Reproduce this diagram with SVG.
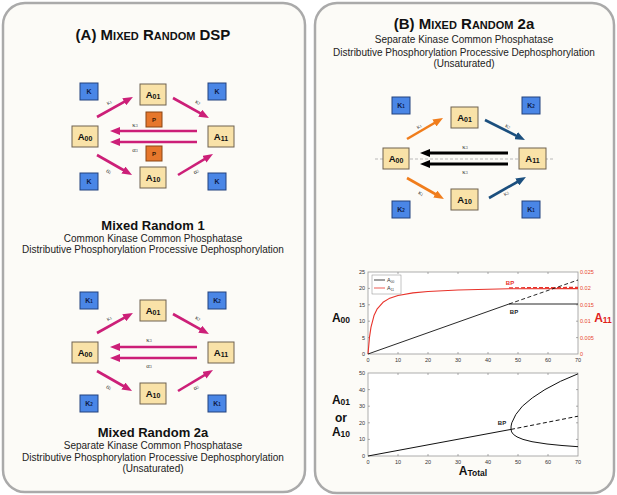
<svg xmlns="http://www.w3.org/2000/svg" width="617" height="495" viewBox="0 0 617 495">
<defs>
<style>
.panel{fill:#fcfbf7;stroke:#aaaaaa;stroke-width:2.5}
.nd{fill:#f9e2a8;stroke:#6e6250;stroke-width:1}
.kb{fill:#4a86e6;stroke:#23427e;stroke-width:1}
.pb{fill:#e6772c;stroke:#8a4614;stroke-width:1}
.nt{font-family:"Liberation Sans",Arial,sans-serif;font-weight:bold;font-size:9.5px;fill:#111;text-anchor:middle}
.nt .s{font-size:7px}
.kt{font-family:"Liberation Sans",Arial,sans-serif;font-weight:bold;font-size:7px;fill:#0e1b45;text-anchor:middle}
.kt .s{font-size:4.5px}
.pt{font-family:"Liberation Sans",Arial,sans-serif;font-weight:bold;font-size:6px;fill:#3a1a05;text-anchor:middle}
.lb{font-family:"Liberation Serif","Times New Roman",serif;font-size:6.5px;fill:#333;text-anchor:middle}
.lb .s{font-size:4px}
.ttl{font-family:"Liberation Sans",Arial,sans-serif;font-weight:bold;font-size:15px;fill:#111;text-anchor:middle}
.ttl .sc{font-size:11px}
.h2{font-family:"Liberation Sans",Arial,sans-serif;font-weight:bold;font-size:13px;fill:#111;text-anchor:middle}
.sub{font-family:"Liberation Sans",Arial,sans-serif;font-size:10px;fill:#222;text-anchor:middle}
.mag{stroke:#cc1f78;stroke-width:2.6;fill:none;marker-end:url(#hm)}
.org{stroke:#f07d1c;stroke-width:2.6;fill:none;marker-end:url(#ho)}
.nav{stroke:#1b4f7e;stroke-width:2.6;fill:none;marker-end:url(#hn)}
.blk{stroke:#000;stroke-width:2.8;fill:none;marker-end:url(#hk)}
.ax{fill:#fff;stroke:#9a9a9a;stroke-width:0.8}
.tk{stroke:#777;stroke-width:0.6}
.tl{font-family:"Liberation Sans",Arial,sans-serif;font-size:5.5px;fill:#333}
.tlr{font-family:"Liberation Sans",Arial,sans-serif;font-size:5.5px;fill:#e8452a}
.al{font-family:"Liberation Sans",Arial,sans-serif;font-weight:bold;font-size:12px;fill:#111;text-anchor:middle}
.al .s{font-size:8.5px}
.bp{font-family:"Liberation Sans",Arial,sans-serif;font-weight:bold;font-size:6px}
</style>
<marker id="hm" viewBox="0 0 10 8" refX="5" refY="4" markerWidth="10" markerHeight="8" markerUnits="userSpaceOnUse" orient="auto"><path d="M0,0 L10,4 L0,8 z" fill="#cc1f78"/></marker>
<marker id="ho" viewBox="0 0 10 8" refX="5" refY="4" markerWidth="10" markerHeight="8" markerUnits="userSpaceOnUse" orient="auto"><path d="M0,0 L10,4 L0,8 z" fill="#f07d1c"/></marker>
<marker id="hn" viewBox="0 0 10 8" refX="5" refY="4" markerWidth="10" markerHeight="8" markerUnits="userSpaceOnUse" orient="auto"><path d="M0,0 L10,4 L0,8 z" fill="#1b4f7e"/></marker>
<marker id="hk" viewBox="0 0 10 8" refX="5" refY="4" markerWidth="10" markerHeight="8" markerUnits="userSpaceOnUse" orient="auto"><path d="M0,0 L10,4 L0,8 z" fill="#000"/></marker>
</defs>

<rect class="panel" x="3" y="3" width="302" height="489" rx="22"/>
<rect class="panel" x="315" y="3" width="299" height="490" rx="22"/>

<!-- Panel A titles -->
<text class="ttl" x="153" y="40">(A) M<tspan class="sc">IXED</tspan> R<tspan class="sc">ANDOM</tspan> DSP</text>
<text class="h2" x="153" y="230">Mixed Random 1</text>
<text class="sub" x="153" y="242">Common Kinase Common Phosphatase</text>
<text class="sub" x="153" y="253">Distributive Phosphorylation Processive Dephosphorylation</text>
<text class="h2" x="153" y="437">Mixed Random 2a</text>
<text class="sub" x="153" y="449">Separate Kinase Common Phosphatase</text>
<text class="sub" x="153" y="461">Distributive Phosphorylation Processive Dephosphorylation</text>
<text class="sub" x="153" y="472">(Unsaturated)</text>

<!-- Panel B titles -->
<text class="ttl" x="464" y="29">(B) M<tspan class="sc">IXED</tspan> R<tspan class="sc">ANDOM</tspan> 2a</text>
<text class="sub" x="464" y="43">Separate Kinase Common Phosphatase</text>
<text class="sub" x="464" y="56">Distributive Phosphorylation Processive Dephosphorylation</text>
<text class="sub" x="464" y="67">(Unsaturated)</text>

<!-- dashed guide line in B -->
<line x1="375" y1="159" x2="553" y2="159" stroke="#aaa" stroke-width="0.8" stroke-dasharray="3,2"/>

<g id="connectors">
 <!-- A top diagram -->
 <line class="mag" x1="97" y1="117" x2="128.6" y2="99.4"/>
 <line class="mag" x1="173" y1="98" x2="204.6" y2="115.6"/>
 <line class="mag" x1="197" y1="131" x2="115" y2="131"/>
 <line class="mag" x1="197" y1="142" x2="115" y2="142"/>
 <line class="mag" x1="97" y1="155" x2="127.7" y2="172.5"/>
 <line class="mag" x1="178" y1="175" x2="208.7" y2="156.6"/>
 <!-- A bottom diagram -->
 <line class="mag" x1="97" y1="333" x2="128.6" y2="315.4"/>
 <line class="mag" x1="173" y1="314" x2="204.6" y2="331.6"/>
 <line class="mag" x1="197" y1="347" x2="115" y2="347"/>
 <line class="mag" x1="197" y1="358" x2="115" y2="358"/>
 <line class="mag" x1="97" y1="371" x2="127.7" y2="388.5"/>
 <line class="mag" x1="178" y1="391" x2="208.7" y2="372.6"/>
 <!-- B diagram -->
 <line class="org" x1="407" y1="139" x2="438.7" y2="120.5"/>
 <line class="nav" x1="485" y1="120" x2="520.5" y2="137.8"/>
 <line class="blk" x1="508" y1="153" x2="425" y2="153"/>
 <line class="blk" x1="508" y1="164" x2="425" y2="164"/>
 <line class="org" x1="407" y1="178" x2="439.6" y2="196.5"/>
 <line class="nav" x1="489" y1="198" x2="521.6" y2="179.5"/>
</g>

<g id="connector-labels">
 <text class="lb" transform="translate(110,104) rotate(-29)">κ<tspan class="s">1</tspan></text>
 <text class="lb" transform="translate(197,104) rotate(29)">κ<tspan class="s">2</tspan></text>
 <text class="lb" x="135" y="127">κ<tspan class="s">3</tspan></text>
 <text class="lb" x="135" y="152">α<tspan class="s">3</tspan></text>
 <text class="lb" transform="translate(108,173) rotate(30)">α<tspan class="s">1</tspan></text>
 <text class="lb" transform="translate(197,173) rotate(-31)">α<tspan class="s">2</tspan></text>

 <text class="lb" transform="translate(110,320) rotate(-29)">κ<tspan class="s">1</tspan></text>
 <text class="lb" transform="translate(197,320) rotate(29)">κ<tspan class="s">2</tspan></text>
 <text class="lb" x="149" y="342">κ<tspan class="s">3</tspan></text>
 <text class="lb" x="149" y="368">α<tspan class="s">3</tspan></text>
 <text class="lb" transform="translate(108,389) rotate(30)">α<tspan class="s">1</tspan></text>
 <text class="lb" transform="translate(197,389) rotate(-31)">α<tspan class="s">2</tspan></text>

 <text class="lb" transform="translate(420,128) rotate(-30)">κ<tspan class="s">1</tspan></text>
 <text class="lb" transform="translate(507,128) rotate(27)">κ<tspan class="s">2</tspan></text>
 <text class="lb" x="465" y="149">κ<tspan class="s">3</tspan></text>
 <text class="lb" x="465" y="174">κ<tspan class="s">3</tspan></text>
 <text class="lb" transform="translate(420,195) rotate(30)">κ<tspan class="s">1</tspan></text>
 <text class="lb" transform="translate(507,195) rotate(-30)">κ<tspan class="s">2</tspan></text>
</g>

<!-- Panel A, diagram 1 nodes -->
<g id="a1-K-tl"><rect class="kb" x="80" y="83" width="18" height="17"/><text class="kt" x="89" y="94">K</text></g>
<g id="a1-K-tr"><rect class="kb" x="208" y="83" width="18" height="17"/><text class="kt" x="217" y="94">K</text></g>
<g id="a1-K-bl"><rect class="kb" x="80" y="173" width="18" height="17"/><text class="kt" x="89" y="184">K</text></g>
<g id="a1-K-br"><rect class="kb" x="208" y="173" width="18" height="17"/><text class="kt" x="217" y="184">K</text></g>
<g id="a1-A01"><rect class="nd" x="140" y="84" width="26" height="21"/><text class="nt" x="153" y="98">A<tspan class="s" dy="1">01</tspan></text></g>
<g id="a1-A00"><rect class="nd" x="72" y="126" width="26" height="21"/><text class="nt" x="85" y="140">A<tspan class="s" dy="1">00</tspan></text></g>
<g id="a1-A11"><rect class="nd" x="208" y="126" width="26" height="21"/><text class="nt" x="221" y="140">A<tspan class="s" dy="1">11</tspan></text></g>
<g id="a1-A10"><rect class="nd" x="140" y="167" width="26" height="21"/><text class="nt" x="153" y="181">A<tspan class="s" dy="1">10</tspan></text></g>
<g id="a1-P-top"><rect class="pb" x="146" y="112" width="16" height="15"/><text class="pt" x="154" y="122">P</text></g>
<g id="a1-P-bot"><rect class="pb" x="146" y="146" width="16" height="15"/><text class="pt" x="154" y="156">P</text></g>

<!-- Panel A, diagram 2 nodes -->
<g id="a2-K1-tl"><rect class="kb" x="80" y="292" width="18" height="17"/><text class="kt" x="89" y="303">K<tspan class="s">1</tspan></text></g>
<g id="a2-K2-tr"><rect class="kb" x="208" y="292" width="18" height="17"/><text class="kt" x="217" y="303">K<tspan class="s">2</tspan></text></g>
<g id="a2-K2-bl"><rect class="kb" x="80" y="395" width="18" height="17"/><text class="kt" x="89" y="406">K<tspan class="s">2</tspan></text></g>
<g id="a2-K1-br"><rect class="kb" x="208" y="395" width="18" height="17"/><text class="kt" x="217" y="406">K<tspan class="s">1</tspan></text></g>
<g id="a2-A01"><rect class="nd" x="140" y="300" width="26" height="21"/><text class="nt" x="153" y="314">A<tspan class="s" dy="1">01</tspan></text></g>
<g id="a2-A00"><rect class="nd" x="72" y="342" width="26" height="21"/><text class="nt" x="85" y="356">A<tspan class="s" dy="1">00</tspan></text></g>
<g id="a2-A11"><rect class="nd" x="208" y="342" width="26" height="21"/><text class="nt" x="221" y="356">A<tspan class="s" dy="1">11</tspan></text></g>
<g id="a2-A10"><rect class="nd" x="140" y="383" width="26" height="21"/><text class="nt" x="153" y="397">A<tspan class="s" dy="1">10</tspan></text></g>

<!-- Panel B diagram nodes -->
<g id="b-K1-tl"><rect class="kb" x="392" y="97" width="18" height="17"/><text class="kt" x="401" y="108">K<tspan class="s">1</tspan></text></g>
<g id="b-K2-tr"><rect class="kb" x="522" y="97" width="18" height="17"/><text class="kt" x="531" y="108">K<tspan class="s">2</tspan></text></g>
<g id="b-K2-bl"><rect class="kb" x="392" y="201" width="18" height="17"/><text class="kt" x="401" y="212">K<tspan class="s">2</tspan></text></g>
<g id="b-K1-br"><rect class="kb" x="522" y="201" width="18" height="17"/><text class="kt" x="531" y="212">K<tspan class="s">1</tspan></text></g>
<g id="b-A01"><rect class="nd" x="451" y="107" width="27" height="21"/><text class="nt" x="464.5" y="121">A<tspan class="s" dy="1">01</tspan></text></g>
<g id="b-A00"><rect class="nd" x="383" y="148" width="26" height="21"/><text class="nt" x="396" y="162">A<tspan class="s" dy="1">00</tspan></text></g>
<g id="b-A11"><rect class="nd" x="519" y="148" width="27" height="21"/><text class="nt" x="532.5" y="162">A<tspan class="s" dy="1">11</tspan></text></g>
<g id="b-A10"><rect class="nd" x="451" y="189" width="27" height="21"/><text class="nt" x="464.5" y="203">A<tspan class="s" dy="1">10</tspan></text></g>

<!-- Top plot -->
<g id="plot-top">
 <rect class="ax" x="368" y="272" width="210" height="82"/>
 <path class="tk" d="M398,354v-2M428,354v-2M458,354v-2M488,354v-2M518,354v-2M548,354v-2M398,272v2M428,272v2M458,272v2M488,272v2M518,272v2M548,272v2M368,337.6h2M368,321.2h2M368,304.8h2M368,288.4h2M578,337.6h-2M578,321.2h-2M578,304.8h-2M578,288.4h-2"/>
 <g class="tl" text-anchor="middle">
  <text x="368" y="362">0</text><text x="398" y="362">10</text><text x="428" y="362">20</text><text x="458" y="362">30</text><text x="488" y="362">40</text><text x="518" y="362">50</text><text x="548" y="362">60</text><text x="578" y="362">70</text>
 </g>
 <g class="tl" text-anchor="end">
  <text x="365" y="274">25</text><text x="365" y="290.4">20</text><text x="365" y="306.8">15</text><text x="365" y="323.2">10</text><text x="365" y="339.6">5</text><text x="365" y="356">0</text>
 </g>
 <g class="tlr" text-anchor="start">
  <text x="580" y="274">0.025</text><text x="580" y="290.4">0.02</text><text x="580" y="306.8">0.015</text><text x="580" y="323.2">0.01</text><text x="580" y="339.6">0.005</text><text x="580" y="356">0</text>
 </g>
 <path d="M368,354 L369.5,337.2 L371,327.1 L374,315.6 L377,309.2 L383,302.3 L389,298.6 L398,295.5 L413,292.9 L428,291.5 L458,290 L488,289.2 L509,288.8 L578,288.6" fill="none" stroke="#e8322a" stroke-width="1.1" stroke-linejoin="round"/>
 <line x1="509" y1="287.8" x2="578" y2="287.4" stroke="#e8322a" stroke-width="1.2" stroke-dasharray="4,2"/>
 <path d="M368,354 L509,304 L578,304" fill="none" stroke="#111" stroke-width="0.9"/>
 <line x1="509" y1="304" x2="578" y2="280" stroke="#111" stroke-width="0.9" stroke-dasharray="4,2.5"/>
 <text class="bp" x="510" y="285" fill="#e8322a" text-anchor="middle">BP</text>
 <text class="bp" x="514" y="314" fill="#222" text-anchor="middle">BP</text>
 <rect x="372" y="275" width="29" height="19" fill="#fff" stroke="#888" stroke-width="0.5"/>
 <line x1="374" y1="280" x2="385" y2="280" stroke="#111" stroke-width="0.8"/>
 <line x1="374" y1="288" x2="385" y2="288" stroke="#e8322a" stroke-width="0.8"/>
 <text class="tl" x="387" y="281.5" font-size="4.5">A<tspan font-size="3.2" dy="1">00</tspan></text>
 <text class="tl" x="387" y="289.5" font-size="4.5">A<tspan font-size="3.2" dy="1">11</tspan></text>
 <text class="al" x="341" y="322">A<tspan class="s" dy="1">00</tspan></text>
 <text class="al" x="603" y="322" fill="#e0201a" style="fill:#e0201a">A<tspan class="s" dy="1">11</tspan></text>
</g>

<!-- Bottom plot -->
<g id="plot-bottom">
 <rect class="ax" x="368" y="373" width="210" height="83"/>
 <path class="tk" d="M398,456v-2M428,456v-2M458,456v-2M488,456v-2M518,456v-2M548,456v-2M398,373v2M428,373v2M458,373v2M488,373v2M518,373v2M548,373v2M368,439.4h2M368,422.8h2M368,406.2h2M368,389.6h2M578,439.4h-2M578,422.8h-2M578,406.2h-2M578,389.6h-2"/>
 <g class="tl" text-anchor="middle">
  <text x="368" y="464">0</text><text x="398" y="464">10</text><text x="428" y="464">20</text><text x="458" y="464">30</text><text x="488" y="464">40</text><text x="518" y="464">50</text><text x="548" y="464">60</text><text x="578" y="464">70</text>
 </g>
 <g class="tl" text-anchor="end">
  <text x="365" y="375">50</text><text x="365" y="391.6">40</text><text x="365" y="408.2">30</text><text x="365" y="424.8">20</text><text x="365" y="441.4">10</text><text x="365" y="458">0</text>
 </g>
 <path d="M368,456 L511,429.4" fill="none" stroke="#111" stroke-width="1"/>
 <line x1="511" y1="429.4" x2="578" y2="416.2" stroke="#111" stroke-width="1" stroke-dasharray="4,2.5"/>
 <path d="M511,429.4 L511.1,426.1 L511.8,422.8 L515.8,414.5 L522.4,406.2 L532.3,397.9 L544.9,389.6 L560.5,381.3 L578,373.8" fill="none" stroke="#111" stroke-width="1" stroke-linejoin="round"/>
 <path d="M511,429.4 L511.6,431.9 L513.4,434.4 L517,436.9 L523,439.4 L532,441.7 L547,444 L562,445.5 L578,446.7" fill="none" stroke="#111" stroke-width="1" stroke-linejoin="round"/>
 <text class="bp" x="502" y="425" fill="#222" text-anchor="middle">BP</text>
 <text class="al" x="341" y="404">A<tspan class="s" dy="1">01</tspan></text>
 <text class="al" x="341" y="422" font-size="10">or</text>
 <text class="al" x="341" y="436">A<tspan class="s" dy="1">10</tspan></text>
 <text class="al" x="473" y="475">A<tspan class="s" dy="1">Total</tspan></text>
</g>
</svg>
